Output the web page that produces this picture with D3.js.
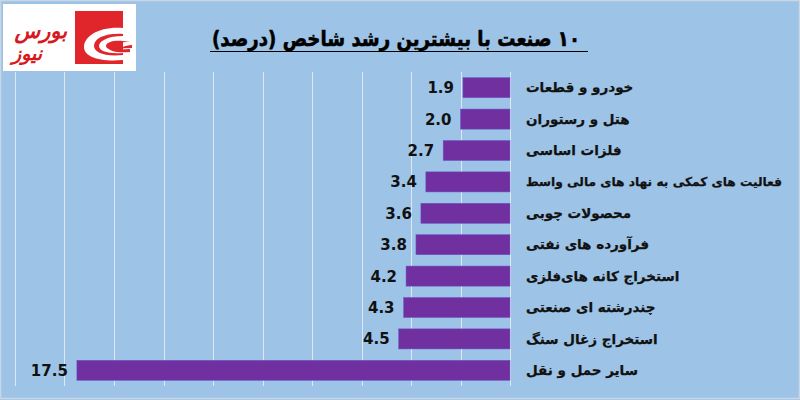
<!DOCTYPE html>
<html><head><meta charset="utf-8">
<script src="https://cdn.jsdelivr.net/npm/d3@7"></script>
<style>body{margin:0;background:#fff}svg{display:block}</style>
</head><body>
<svg id="c" width="800" height="400"></svg>
<script>
const categories = ["خودرو و قطعات","هتل و رستوران","فلزات اساسی","فعالیت های کمکی به نهاد های مالی واسط","محصولات چوبی","فرآورده های نفتی","استخراج کانه های‌فلزی","چندرشته ای صنعتی","استخراج زغال سنگ","سایر حمل و نقل"];
const values = [1.9,2.0,2.7,3.4,3.6,3.8,4.2,4.3,4.5,17.5];
const gridTicks = [0,2,4,6,8,10,12,14,16,18,20];
const title = "۱۰ صنعت با بیشترین رشد شاخص (درصد)";
const logoTop = "بورس";
const logoBottom = "نیوز";

const svg = d3.select("#c");
svg.append("rect").attr("width",800).attr("height",400).attr("fill","#9dc3e6");
svg.append("rect").attr("x",0.5).attr("y",0.5).attr("width",799).attr("height",398).attr("fill","none").attr("stroke","#c9d6e3").attr("stroke-width",1.5);

const x = d3.scaleLinear().domain([0,20]).range([510,15]);
const y = d3.scaleBand().domain(categories).range([72,386]).paddingInner(0.36).paddingOuter(0.18);

const g = svg.append("g");
g.selectAll("line.grid").data(gridTicks).join("line").attr("class","grid")
 .attr("x1",d=>Math.round(x(d))+0.5).attr("x2",d=>Math.round(x(d))+0.5).attr("y1",72).attr("y2",386)
 .attr("stroke","#dfe8f2").attr("stroke-width",1);

g.selectAll("rect.bar").data(values).join("rect").attr("class","bar")
 .attr("x",d=>x(d)).attr("width",d=>x(0)-x(d))
 .attr("y",(d,i)=>y(categories[i])).attr("height",y.bandwidth())
 .attr("fill","#7030a0").attr("stroke","#6a5acd").attr("stroke-width",0.5);

g.selectAll("text.val").data(values).join("text").attr("class","val")
 .attr("x",d=>x(d)-9).attr("y",(d,i)=>y(categories[i])+y.bandwidth()/2)
 .attr("dy","0.36em").attr("text-anchor","end")
 .attr("font-family","DejaVu Sans").attr("font-weight","bold").attr("font-size",15)
 .attr("fill","#111").text(d=>d.toFixed(1));

g.selectAll("text.cat").data(categories).join("text").attr("class","cat")
 .attr("x",526).attr("y",d=>y(d)+y.bandwidth()/2).attr("dy","0.35em")
 .attr("direction","rtl").attr("text-anchor","end")
 .attr("font-family","DejaVu Sans").attr("font-weight","bold").attr("font-size",13.5)
 .attr("fill","#111").attr("stroke","#111").attr("stroke-width",0.25).text(d=>d)
 .each(function(){ const w=this.getComputedTextLength(); if(w>256){ d3.select(this).attr("font-size",(13.5*256/w).toFixed(2)); } });

// title
svg.append("text").attr("x",396).attr("y",46).attr("text-anchor","middle")
 .attr("direction","rtl").attr("font-family","DejaVu Sans").attr("font-weight","bold")
 .attr("font-size",21).attr("fill","#000").attr("stroke","#000").attr("stroke-width",0.6)
 .attr("textLength",368).attr("lengthAdjust","spacingAndGlyphs").text(title);
svg.append("line").attr("x1",210).attr("x2",588).attr("y1",51.5).attr("y2",51.5).attr("stroke","#000").attr("stroke-width",1.2);

// logo
const lg = svg.append("g");
lg.append("rect").attr("x",3).attr("y",4).attr("width",133).attr("height",67).attr("fill","#fff");
lg.append("rect").attr("x",75).attr("y",11).attr("width",48).attr("height",53).attr("fill","#e0262b");
lg.append("path").attr("d","M123,28 C100,26 84,36 84,47 C84,57 100,62 123,60 L123,64 L123,55 C104,57 94,52 94,46 C94,38 106,33 123,34 Z").attr("fill","#fff");
lg.append("path").attr("d","M123,36 C108,36 99,41 99,46 C99,51 108,54 123,53 L128,53 L128,50 C112,51 106,49 106,46 C106,42 114,40 123,41 Z").attr("fill","#fff");
lg.append("path").attr("d","M123,41 L130,42 C120,42 112,44 112,47 C112,49 118,50 130,49 L130,52 C116,53 108,51 108,47 C108,43 116,41 123,41 Z").attr("fill","#e0262b");
lg.append("path").attr("d","M123,47 C119,47 116,47.5 116,48.5 L132,48 L132,45 C128,45 125,46 123,47 Z").attr("fill","#e0262b");
lg.append("text").attr("x",67).attr("y",38).attr("text-anchor","start").attr("direction","rtl")
 .attr("font-family","DejaVu Sans").attr("font-weight","bold").attr("font-style","italic")
 .attr("font-size",21).attr("fill","#d7191f").text(logoTop);
lg.append("text").attr("x",42).attr("y",60).attr("text-anchor","start").attr("direction","rtl")
 .attr("font-family","DejaVu Sans").attr("font-weight","bold").attr("font-style","italic")
 .attr("font-size",19).attr("fill","#d7191f").text(logoBottom);
</script>
</body></html>
